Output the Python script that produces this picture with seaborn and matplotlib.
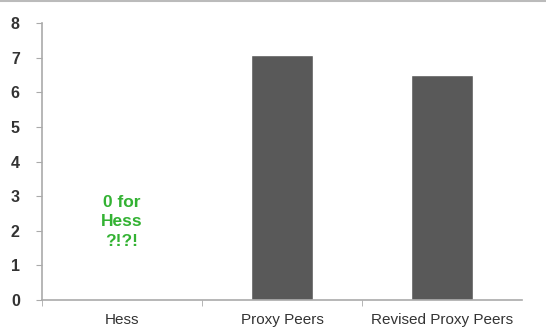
import pandas as pd
import seaborn as sns
import matplotlib.pyplot as plt
from matplotlib.lines import Line2D

categories = ['Hess', 'Proxy Peers', 'Revised Proxy Peers']
values = [0.0, 7.08, 6.5]
note = '0 for\nHess\n?!?!'

sns.set_style('white')
plt.rcParams['font.family'] = ['Liberation Sans', 'DejaVu Sans']

df = pd.DataFrame({'group': categories, 'value': values})

fig = plt.figure(figsize=(5.46, 3.32), dpi=100)
ax = fig.add_axes([0.077, 0.096, 0.879, 0.835])
sns.barplot(data=df, x='group', y='value', color='#595959', width=0.39,
            saturation=1, ax=ax)

ax.set_ylim(0, 8)
ax.set_yticks(range(0, 9))
ax.set_xlabel('')
ax.set_ylabel('')
ax.set_xticks([-0.5, 0.5, 1.5], minor=True)
ax.tick_params(axis='x', which='major', bottom=False, labelsize=11, colors='#333333', pad=6)
ax.tick_params(axis='x', which='minor', bottom=True, length=4, color='#aaaaaa', direction='out')
ax.tick_params(axis='y', left=True, length=4, color='#aaaaaa', labelsize=11.5, labelcolor='#333333', pad=12)
for t in ax.get_yticklabels():
    t.set_fontweight('bold')
ax.set_xlim(-0.5, 2.5)
sns.despine(ax=ax)
for s in ['left', 'bottom']:
    ax.spines[s].set_color('#aaaaaa')
    ax.spines[s].set_linewidth(1.2)

ax.text(0, 2.26, note, ha='center', va='center', color='#33b233',
        fontsize=12.5, fontweight='bold', linespacing=1.35)

fig.add_artist(Line2D([0, 1], [0.997, 0.997], color='#bbbbbb', lw=1.5,
                      transform=fig.transFigure))

plt.savefig('out.png', dpi=100)
